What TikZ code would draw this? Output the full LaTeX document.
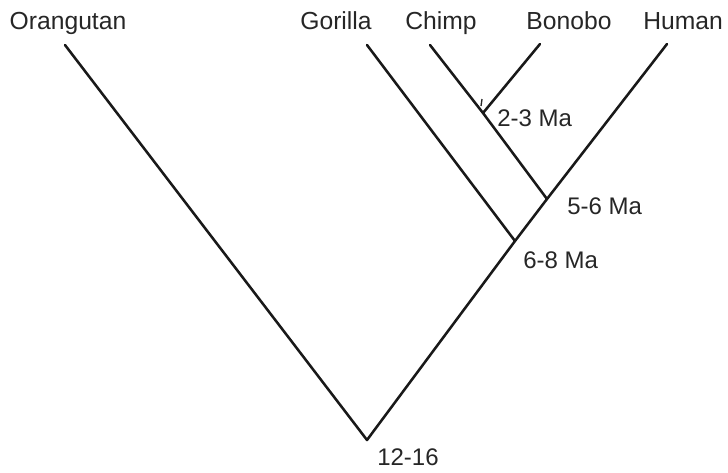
\documentclass[tikz,border=0pt]{standalone}
\usepackage{fontspec}
\setmainfont{Liberation Sans}
\begin{document}
\begin{tikzpicture}[x=0.75pt,y=-0.75pt,
  branch/.style={line width=1.9pt,line cap=round,line join=round,black!90},
  taxon/.style={anchor=base,inner sep=0pt,font=\fontsize{18.5}{20}\selectfont,text=black!85},
  age/.style={anchor=base west,inner sep=0pt,font=\fontsize{18}{20}\selectfont,text=black!85}]
\useasboundingbox (0,0) rectangle (728,472);
% tips
\coordinate (O) at (65,45);
\coordinate (G) at (367,45);
\coordinate (C) at (430,45);
\coordinate (B) at (540,44);
\coordinate (H) at (667,44);
% internal nodes
\coordinate (cb) at (483,113);
\coordinate (hc) at (547,199);
\coordinate (hg) at (515,241);
\coordinate (root) at (367,440);
\coordinate (tickA) at (482,99);
\coordinate (tickB) at (481,106);
% branches
\draw[branch] (O) -- (root) -- (hg) -- (hc) -- (H);
\draw[branch] (G) -- (hg);
\draw[branch] (C) -- (cb) -- (hc);
\draw[branch] (B) -- (cb);
\draw[line width=1pt,black!85] (tickA) -- (tickB);
% labels
\node[taxon] (lO) at (68,29) {Orangutan};
\node[taxon] (lG) at (336,29) {Gorilla};
\node[taxon] (lC) at (441,29) {Chimp};
\node[taxon] (lB) at (569,29) {Bonobo};
\node[taxon] (lH) at (683,29) {Human};
\node[age] (a1) at (497,126) {2-3 Ma};
\node[age] (a2) at (567,214) {5-6 Ma};
\node[age] (a3) at (523,268) {6-8 Ma};
\node[age] (a4) at (377,465) {12-16};
\end{tikzpicture}
\end{document}
